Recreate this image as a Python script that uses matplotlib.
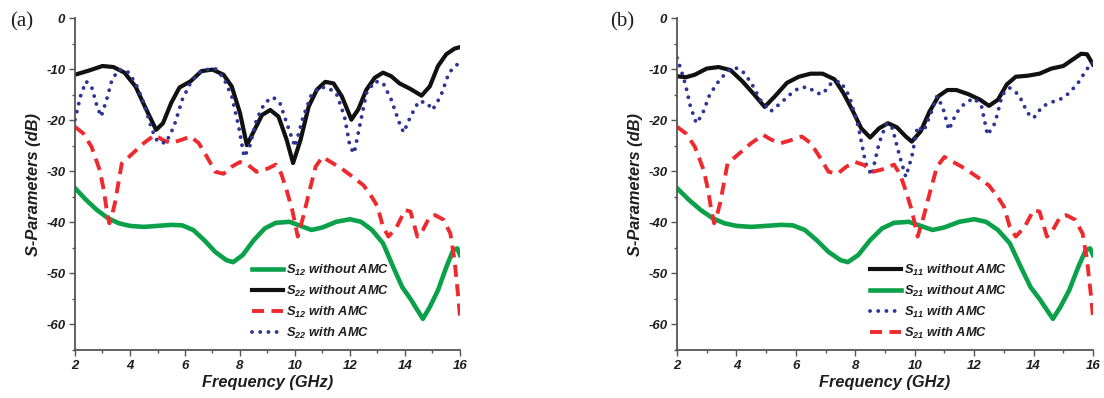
import numpy as np
import matplotlib
matplotlib.use("Agg")
import matplotlib.pyplot as plt

plt.rcParams['font.family'] = ['Liberation Sans', 'DejaVu Sans']
plt.rcParams['axes.unicode_minus'] = False
plt.rcParams['mathtext.fontset'] = 'custom'
plt.rcParams['mathtext.it'] = 'Liberation Sans:bold:italic'
plt.rcParams['mathtext.rm'] = 'Liberation Sans:bold:italic'
plt.rcParams['mathtext.bf'] = 'Liberation Sans:bold:italic'

# ---- data (frequency in GHz, level in dB) ----

# transmission without AMC (same curve in both panels)
trans_wo_f = [2.0, 2.4, 2.8, 3.2, 3.6, 4.0, 4.5, 5.0, 5.5, 5.9, 6.3, 6.7, 7.1, 7.5, 7.75,
              8.1, 8.5, 8.9, 9.3, 9.8, 10.2, 10.6, 11.0, 11.5, 12.0, 12.4, 12.8, 13.2,
              13.6, 13.9, 14.2, 14.5, 14.65, 14.9, 15.2, 15.5, 15.75, 15.9, 16.0]
trans_wo_db = [-33.3, -35.6, -37.6, -39.2, -40.2, -40.7, -40.9, -40.7, -40.5, -40.6, -41.5,
               -43.5, -45.8, -47.4, -47.8, -46.4, -43.5, -41.2, -40.1, -39.9, -40.7, -41.5,
               -41.0, -39.9, -39.4, -39.9, -41.5, -44.1, -49.1, -52.7, -55.0, -57.6, -58.9,
               -56.6, -53.3, -48.8, -45.5, -45.1, -46.4]

# transmission with AMC (same curve in both panels)
trans_w_f = [2.0, 2.3, 2.6, 2.9, 3.05, 3.15, 3.25, 3.35, 3.45, 3.7, 4.1, 4.5, 4.9, 5.2, 5.5,
             5.9, 6.2, 6.5, 6.8, 7.1, 7.4, 7.7, 8.0, 8.3, 8.6, 9.0, 9.3, 9.5, 9.7, 9.9,
             10.1, 10.3, 10.5, 10.75, 11.0, 11.3, 11.7, 12.1, 12.5, 12.8, 13.0, 13.2, 13.4,
             13.7, 14.0, 14.2, 14.45, 14.65, 14.9, 15.1, 15.4, 15.65, 15.8, 15.95, 16.0]
trans_w_db = [-21.3, -22.6, -25.2, -29.8, -33.8, -37.5, -40.2, -38.5, -36.3, -28.5, -26.5,
              -24.5, -22.9, -23.9, -24.5, -23.8, -23.2, -24.5, -27.2, -30.1, -30.5, -29.1,
              -28.2, -28.8, -30.1, -29.5, -28.7, -30.5, -33.8, -37.6, -42.8, -38.9, -34.4,
              -29.1, -27.2, -28.2, -29.5, -31.1, -32.8, -35.1, -36.9, -40.9, -42.8, -40.9,
              -37.6, -37.9, -42.8, -41.5, -38.9, -38.6, -39.5, -42.2, -47.4, -55.3, -58.6]

# (a) S22 without AMC
a_wo_f = [2.0, 2.5, 3.0, 3.4, 3.8, 4.2, 4.6, 4.95, 5.2, 5.5, 5.8, 6.2, 6.6, 7.0, 7.4, 7.7,
          8.0, 8.25, 8.5, 8.8, 9.1, 9.4, 9.7, 9.93, 10.2, 10.5, 10.8, 11.1, 11.4, 11.7,
          12.05, 12.3, 12.6, 12.9, 13.2, 13.5, 13.8, 14.2, 14.6, 14.9, 15.2, 15.5, 15.8, 16.0]
a_wo_db = [-11.1, -10.3, -9.4, -9.6, -10.7, -13.4, -18.0, -21.9, -20.6, -16.6, -13.6, -12.4,
           -10.4, -10.1, -11.1, -13.4, -18.6, -24.9, -22.2, -19.0, -18.0, -19.3, -23.9,
           -28.4, -23.9, -17.3, -14.0, -12.5, -12.8, -15.3, -19.9, -17.9, -14.0, -11.7,
           -10.7, -11.4, -12.8, -13.9, -15.2, -13.4, -9.4, -7.1, -6.0, -5.7]

# (a) S22 with AMC
a_w_f = [2.0, 2.2, 2.4, 2.6, 2.8, 2.95, 3.15, 3.35, 3.6, 3.9, 4.2, 4.5, 4.8, 5.0, 5.3, 5.6,
         5.9, 6.2, 6.5, 6.8, 7.1, 7.4, 7.7, 7.95, 8.15, 8.35, 8.6, 8.9, 9.2, 9.45, 9.7,
         10.0, 10.3, 10.6, 10.9, 11.2, 11.5, 11.8, 12.0, 12.15, 12.35, 12.6, 12.9, 13.2,
         13.5, 13.8, 13.95, 14.2, 14.5, 14.8, 15.0, 15.3, 15.6, 15.9, 16.0]
a_w_db = [-19.9, -15.3, -12.4, -13.4, -17.3, -19.3, -16.0, -12.0, -10.1, -10.4, -12.7,
          -16.6, -21.9, -24.2, -24.5, -21.2, -16.0, -12.7, -10.7, -10.1, -9.9, -11.7,
          -15.3, -21.2, -27.2, -25.2, -19.9, -16.6, -15.5, -16.6, -20.6, -25.2, -19.3,
          -15.0, -13.5, -13.7, -14.7, -19.3, -25.2, -26.5, -21.2, -14.7, -12.4, -12.7,
          -16.0, -20.6, -22.4, -19.3, -16.3, -16.6, -18.0, -15.3, -10.7, -9.1, -9.1]

# (b) S11 without AMC
b_wo_f = [2.0, 2.3, 2.6, 3.0, 3.4, 3.8, 4.2, 4.6, 4.95, 5.3, 5.7, 6.1, 6.5, 6.9, 7.3, 7.6,
          7.9, 8.2, 8.5, 8.8, 9.1, 9.4, 9.7, 9.9, 10.2, 10.5, 10.8, 11.1, 11.4, 11.8, 12.2,
          12.5, 12.8, 13.1, 13.4, 13.8, 14.2, 14.6, 15.0, 15.3, 15.6, 15.8, 16.0]
b_wo_db = [-11.4, -11.6, -11.1, -9.9, -9.6, -10.2, -12.4, -15.0, -17.4, -15.3, -12.7, -11.5,
           -10.9, -10.9, -12.0, -14.7, -18.0, -21.6, -23.4, -21.6, -20.6, -21.4, -23.2,
           -24.2, -22.2, -18.3, -15.3, -14.1, -14.1, -14.9, -16.0, -17.2, -16.0, -13.0,
           -11.5, -11.3, -10.9, -9.9, -9.4, -8.2, -7.0, -7.1, -9.1]

# (b) S11 with AMC
b_w_f = [2.0, 2.15, 2.3, 2.45, 2.65, 2.85, 3.1, 3.4, 3.7, 3.95, 4.2, 4.5, 4.8, 5.15, 5.5,
         5.8, 6.1, 6.4, 6.7, 6.9, 7.2, 7.5, 7.8, 8.1, 8.35, 8.55, 8.8, 9.05, 9.25, 9.5,
         9.7, 9.9, 10.1, 10.3, 10.55, 10.75, 10.95, 11.15, 11.4, 11.7, 12.0, 12.25, 12.45,
         12.7, 12.95, 13.2, 13.5, 13.8, 14.0, 14.3, 14.6, 14.9, 15.2, 15.5, 15.75, 15.95, 16.0]
b_w_db = [-7.8, -10.4, -13.4, -17.3, -20.6, -18.9, -15.0, -12.4, -10.4, -9.7, -10.4, -12.7,
          -16.0, -18.3, -16.6, -15.0, -13.7, -13.5, -14.7, -14.9, -12.7, -12.4, -15.3,
          -21.2, -28.5, -30.8, -24.5, -20.6, -21.6, -27.2, -31.1, -27.2, -21.2, -22.2,
          -18.6, -15.3, -17.6, -21.9, -18.6, -16.6, -15.7, -17.3, -22.9, -20.6, -15.0,
          -13.7, -15.0, -18.6, -19.6, -17.3, -16.5, -15.9, -14.7, -12.7, -10.4, -8.8, -8.8]

BLACK = "#111111"
GREEN = "#0aa14a"
RED = "#ee2a2e"
BLUE = "#2c3593"
AXC = "#555555"
TXT = "#1e1e1e"

fig = plt.figure(figsize=(11.04, 3.98), dpi=100)
ax_a = fig.add_axes([75/1104, 48/398, 385/1104, 332/398])
ax_b = fig.add_axes([677/1104, 48/398, 416/1104, 332/398])


def draw_line(ax, f, db, kind, label):
    if kind == "black":
        return ax.plot(f, db, color=BLACK, lw=3.0, label=label, solid_joinstyle="round")[0]
    if kind == "green":
        return ax.plot(f, db, color=GREEN, lw=3.3, label=label, solid_joinstyle="round")[0]
    if kind == "red":
        return ax.plot(f, db, color=RED, lw=2.8, ls=(0, (3.1, 1.9)), label=label)[0]
    return ax.plot(f, db, color=BLUE, lw=2.8, ls=(0, (0.01, 2.1)), label=label,
                   dash_capstyle="round")[0]


leg_font = {"size": 9.3, "weight": "bold", "style": "italic"}

# panel (a)
h = {}
h["s12wo"] = draw_line(ax_a, trans_wo_f, trans_wo_db, "green", r"$S_{12}$ without AMC")
h["s22wo"] = draw_line(ax_a, a_wo_f, a_wo_db, "black", r"$S_{22}$ without AMC")
h["s12w"] = draw_line(ax_a, trans_w_f, trans_w_db, "red", r"$S_{12}$ with AMC")
h["s22w"] = draw_line(ax_a, a_w_f, a_w_db, "blue", r"$S_{22}$ with AMC")
leg = ax_a.legend(handles=[h["s12wo"], h["s22wo"], h["s12w"], h["s22w"]],
                  loc="upper left", bbox_to_anchor=(0.46, 0.262), frameon=False,
                  prop=leg_font, handlelength=2.4, handletextpad=0.2,
                  labelspacing=0.45, borderpad=0, borderaxespad=0)
for t in leg.get_texts():
    t.set_color(TXT)

# panel (b)
g = {}
g["s11wo"] = draw_line(ax_b, b_wo_f, b_wo_db, "black", r"$S_{11}$ without AMC")
g["s21wo"] = draw_line(ax_b, trans_wo_f, trans_wo_db, "green", r"$S_{21}$ without AMC")
g["s11w"] = draw_line(ax_b, b_w_f, b_w_db, "blue", r"$S_{11}$ with AMC")
g["s21w"] = draw_line(ax_b, trans_w_f, trans_w_db, "red", r"$S_{21}$ with AMC")
leg = ax_b.legend(handles=[g["s11wo"], g["s21wo"], g["s11w"], g["s21w"]],
                  loc="upper left", bbox_to_anchor=(0.464, 0.262), frameon=False,
                  prop=leg_font, handlelength=2.4, handletextpad=0.2,
                  labelspacing=0.45, borderpad=0, borderaxespad=0)
for t in leg.get_texts():
    t.set_color(TXT)

for ax, tag, tx in [(ax_a, "(a)", 10/1104), (ax_b, "(b)", 610/1104)]:
    ax.set_xlim(2, 16)
    ax.set_ylim(-65, 0)
    ax.set_xticks(np.arange(2, 17, 2))
    ax.set_xticks(np.arange(2, 17, 1), minor=True)
    ax.set_yticks(np.arange(-60, 1, 10))
    ax.set_yticks(np.arange(-65, 1, 5), minor=True)
    for s in ["top", "right"]:
        ax.spines[s].set_visible(False)
    for s in ["left", "bottom"]:
        ax.spines[s].set_color(AXC)
        ax.spines[s].set_linewidth(1.3)
    ax.tick_params(which="major", direction="out", length=4, width=1, color=AXC,
                   labelsize=9.5, pad=3)
    ax.tick_params(which="minor", direction="out", length=2.5, width=1, color=AXC)
    for lab in ax.get_xticklabels() + ax.get_yticklabels():
        lab.set_fontweight("bold")
        lab.set_fontstyle("italic")
        lab.set_color(TXT)
    ax.set_xlabel("Frequency (GHz)", fontsize=11.8, fontweight="bold", style="italic",
                  color=TXT, labelpad=2)
    ax.set_ylabel("S-Parameters (dB)", fontsize=11.8, fontweight="bold", style="italic",
                  color=TXT, labelpad=4)
    fig.text(tx, 0.945, tag, fontsize=15, family="Liberation Serif", color=TXT,
             va="center", ha="left")

fig.savefig("out.png", dpi=100)
